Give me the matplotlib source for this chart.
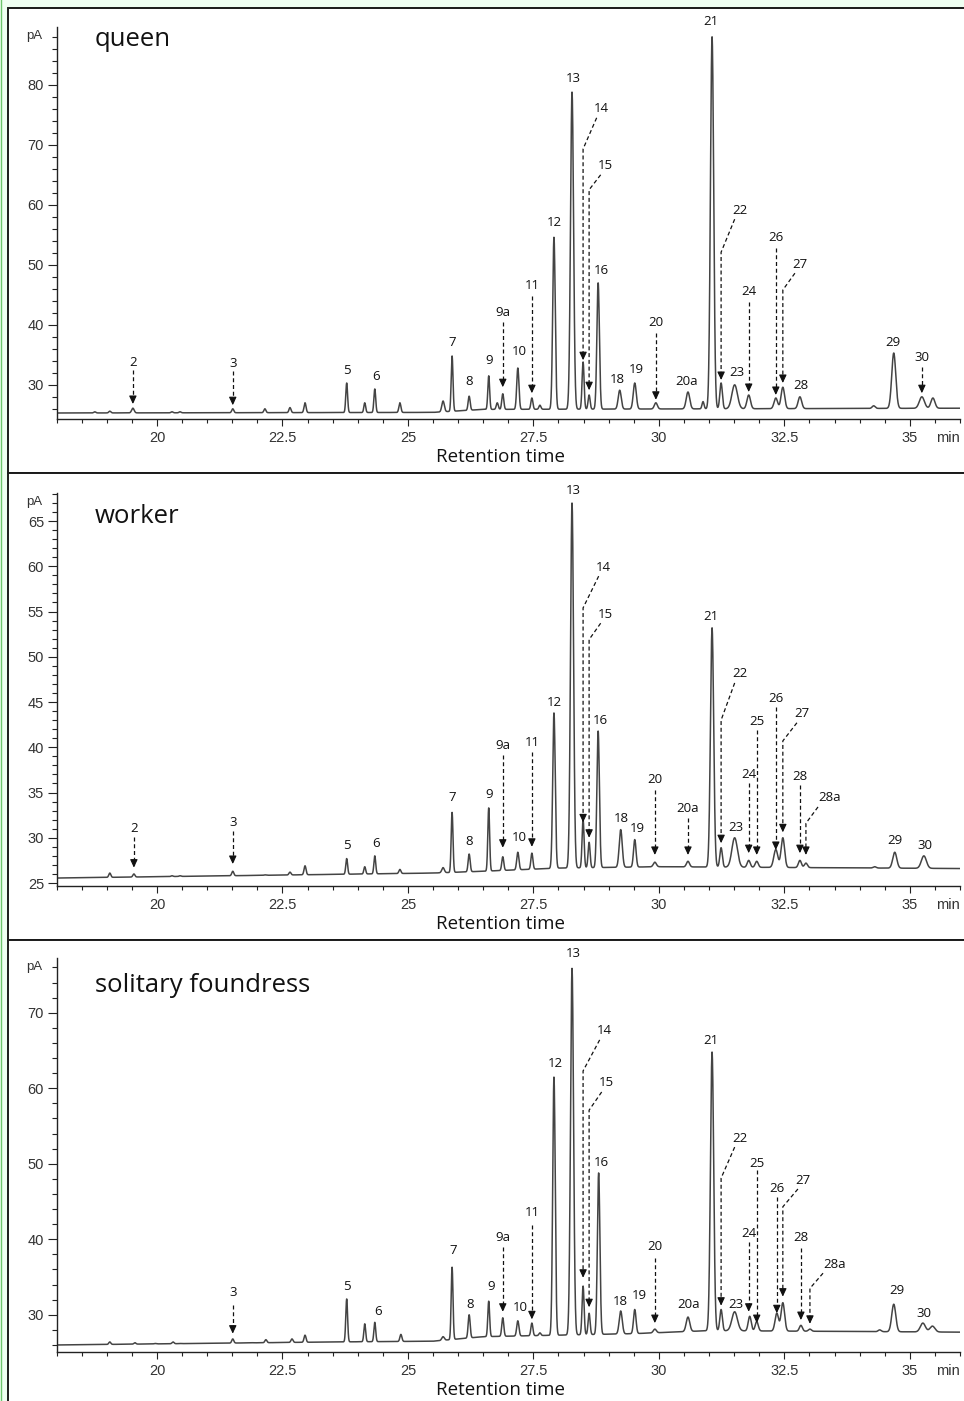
import numpy as np
import matplotlib.pyplot as plt
from matplotlib.patches import Rectangle
from matplotlib.lines import Line2D
from matplotlib.ticker import MultipleLocator, FuncFormatter

plt.rcParams['font.family'] = ['Liberation Sans', 'DejaVu Sans']

W, H = 964, 1401
XMIN, XMAX = 18.0, 36.0

# ---------------- queen ----------------
# peak retention time (min), apex height (pA), peak sd (min)
queen_rt = [18.76, 19.06, 19.52, 20.30, 20.46, 21.51, 22.15, 22.65, 22.95, 23.78,
            24.14, 24.34, 24.84, 25.70, 25.88, 26.22, 26.61, 26.78, 26.89, 27.19,
            27.47, 27.63, 27.91, 28.27, 28.49, 28.61, 28.79, 29.22, 29.52, 29.94,
            30.58, 30.88, 31.06, 31.24, 31.51, 31.79, 32.33, 32.47, 32.81, 34.28,
            34.68, 35.24, 35.46]
queen_pa = [25.5, 25.6, 26.1, 25.5, 25.5, 26.0, 26.0, 26.2, 27.0, 30.3,
            27.0, 29.3, 27.0, 27.3, 34.8, 28.1, 31.5, 27.0, 28.5, 32.8,
            27.8, 26.6, 54.6, 78.8, 33.8, 28.3, 47.0, 29.1, 30.3, 27.0,
            28.8, 27.2, 88.0, 30.3, 30.0, 28.3, 27.8, 29.6, 28.0, 26.5,
            35.3, 28.0, 27.8]
queen_sd = [.02, .02, .025, .02, .02, .02, .02, .02, .02, .018,
            .018, .018, .02, .025, .018, .02, .018, .02, .02, .022,
            .02, .02, .025, .03, .02, .02, .025, .03, .03, .03,
            .035, .02, .032, .025, .055, .035, .035, .035, .035, .03,
            .04, .05, .04]
queen_base_rt = [18.0, 25.5, 26.5, 36.0]
queen_base_pa = [25.3, 25.4, 25.9, 26.1]

queen_plain = [('5', 23.78, 32.3), ('6', 24.36, 31.3), ('7', 25.88, 37.1), ('8', 26.22, 30.5),
               ('9', 26.61, 34.0), ('10', 27.21, 35.5), ('12', 27.91, 57.0), ('13', 28.29, 81.1),
               ('16', 28.86, 49.0), ('18', 29.18, 30.8), ('19', 29.56, 32.6), ('20a', 30.56, 30.6),
               ('21', 31.04, 90.5), ('23', 31.55, 32.1), ('28', 32.83, 29.8), ('29', 34.66, 37.0)]
queen_arrows = [('2', 19.52, 33.8, 32.5, 26.8), ('3', 21.51, 33.6, 32.3, 26.6),
                ('9a', 26.89, 42.1, 40.5, 29.6), ('11', 27.47, 46.5, 44.8, 28.6),
                ('20', 29.94, 40.3, 38.6, 27.5), ('24', 31.79, 45.5, 43.8, 28.8),
                ('26', 32.33, 54.5, 52.8, 28.3), ('30', 35.24, 34.5, 33.0, 28.6)]
queen_kinks = [('14', 28.49, 28.86, 76.0, 69.3, 34.1), ('15', 28.61, 28.94, 66.5, 62.5, 29.1),
               ('22', 31.24, 31.61, 59.1, 52.1, 30.8), ('27', 32.47, 32.81, 50.1, 45.8, 30.3)]

# ---------------- worker ----------------
worker_rt = [19.06, 19.54, 20.30, 20.46, 21.51, 22.15, 22.65, 22.95, 23.78, 24.14,
             24.34, 24.84, 25.70, 25.88, 26.22, 26.61, 26.89, 27.19, 27.47, 27.91,
             28.27, 28.49, 28.61, 28.79, 29.24, 29.52, 29.92, 30.58, 31.06, 31.24,
             31.51, 31.79, 31.95, 32.33, 32.47, 32.81, 32.93, 34.30, 34.70, 35.28]
worker_pa = [26.1, 26.0, 25.8, 25.8, 26.3, 25.9, 26.2, 26.9, 27.7, 26.8,
             28.0, 26.5, 26.7, 32.8, 28.2, 33.3, 27.9, 28.4, 28.3, 43.8,
             67.0, 32.0, 29.5, 41.8, 30.9, 29.8, 27.3, 27.4, 53.2, 28.9,
             30.0, 27.5, 27.4, 28.7, 30.0, 27.5, 27.2, 26.8, 28.4, 28.0]
worker_sd = [.02, .02, .02, .02, .02, .02, .02, .02, .018, .018,
             .018, .02, .025, .018, .02, .018, .02, .022, .02, .025,
             .03, .02, .02, .025, .03, .025, .03, .03, .032, .025,
             .055, .03, .03, .04, .035, .03, .03, .03, .04, .05]
worker_base_rt = [18.0, 25.5, 26.5, 28.0, 30.0, 36.0]
worker_base_pa = [25.55, 26.1, 26.3, 26.65, 26.8, 26.6]

worker_plain = [('5', 23.78, 29.1), ('6', 24.36, 29.4), ('7', 25.88, 34.5), ('8', 26.22, 29.6),
                ('9', 26.61, 34.8), ('10', 27.21, 30.0), ('12', 27.91, 44.9), ('13', 28.29, 68.4),
                ('16', 28.84, 43.0), ('18', 29.26, 32.1), ('19', 29.58, 31.0), ('21', 31.04, 54.4),
                ('23', 31.53, 31.1), ('29', 34.70, 29.75), ('30', 35.30, 29.2)]
worker_arrows = [('2', 19.54, 31.0, 30.1, 26.7), ('3', 21.51, 31.7, 30.7, 27.1),
                 ('9a', 26.89, 40.2, 39.1, 28.9), ('11', 27.47, 40.5, 39.5, 29.0),
                 ('20', 29.92, 36.4, 35.3, 28.1), ('20a', 30.58, 33.2, 32.2, 28.1),
                 ('24', 31.79, 37.0, 36.05, 28.3), ('25', 31.95, 42.8, 41.9, 28.1),
                 ('26', 32.33, 45.4, 44.45, 28.65), ('28', 32.81, 36.8, 35.8, 28.3)]
worker_kinks = [('14', 28.49, 28.90, 59.9, 55.4, 31.7), ('15', 28.61, 28.94, 54.7, 51.9, 30.0),
                ('22', 31.24, 31.61, 48.1, 43.0, 29.4), ('27', 32.47, 32.85, 43.7, 40.7, 30.6),
                ('28a', 32.93, 33.41, 34.4, 31.6, 28.1)]

# ---------------- solitary foundress ----------------
solitary_rt = [19.06, 19.56, 19.96, 20.32, 20.46, 21.51, 21.91, 22.17, 22.69, 22.95,
               23.78, 24.14, 24.34, 24.86, 25.70, 25.88, 26.22, 26.61, 26.89, 27.19,
               27.47, 27.63, 27.91, 28.27, 28.49, 28.61, 28.80, 29.24, 29.52, 29.92,
               30.58, 31.06, 31.24, 31.51, 31.81, 31.95, 32.35, 32.47, 32.83, 33.01,
               34.40, 34.68, 35.26, 35.45]
solitary_pa = [26.4, 26.3, 26.2, 26.4, 26.2, 26.8, 26.3, 26.7, 26.8, 27.3,
               32.1, 28.8, 29.0, 27.4, 27.1, 36.3, 30.0, 31.8, 29.6, 29.2,
               28.9, 27.6, 61.5, 75.9, 33.8, 30.2, 48.8, 30.5, 30.7, 28.1,
               29.7, 64.8, 30.7, 30.4, 29.8, 29.1, 30.2, 31.6, 28.6, 28.1,
               28.0, 31.4, 28.9, 28.5]
solitary_sd = [.02, .02, .02, .02, .02, .02, .02, .02, .02, .02,
               .018, .018, .018, .02, .025, .018, .02, .018, .02, .022,
               .02, .02, .025, .03, .02, .02, .025, .03, .025, .03,
               .035, .032, .025, .055, .03, .03, .035, .035, .03, .03,
               .03, .04, .05, .05]
solitary_base_rt = [18.0, 23.5, 25.5, 26.5, 29.5, 31.0, 36.0]
solitary_base_pa = [26.0, 26.4, 26.5, 27.1, 27.5, 27.9, 27.7]

solitary_plain = [('5', 23.78, 33.7), ('6', 24.40, 30.4), ('7', 25.90, 38.5), ('8', 26.24, 31.4),
                  ('9', 26.65, 33.8), ('10', 27.23, 31.0), ('12', 27.93, 63.3), ('13', 28.29, 77.8),
                  ('16', 28.86, 50.2), ('18', 29.24, 31.7), ('19', 29.62, 32.6), ('20a', 30.60, 31.4),
                  ('21', 31.04, 66.3), ('23', 31.53, 31.4), ('29', 34.74, 33.15), ('30', 35.28, 30.2)]
solitary_arrows = [('3', 21.51, 32.9, 31.3, 27.5), ('9a', 26.89, 40.3, 39.0, 30.4),
                   ('11', 27.47, 43.5, 41.9, 29.4), ('20', 29.92, 39.0, 37.5, 28.9),
                   ('24', 31.79, 40.8, 39.6, 30.4), ('25', 31.95, 50.1, 49.2, 28.9),
                   ('26', 32.35, 46.7, 45.6, 30.2), ('28', 32.83, 40.2, 38.8, 29.3)]
solitary_kinks = [('14', 28.49, 28.92, 67.6, 62.3, 34.9), ('15', 28.61, 28.96, 60.7, 57.1, 31.0),
                  ('22', 31.24, 31.61, 53.4, 48.1, 31.2), ('27', 32.47, 32.87, 47.85, 44.3, 32.4),
                  ('28a', 33.01, 33.51, 36.7, 33.5, 28.8)]


def fx(px):
    return px / W


def fy(py):
    return 1 - py / H


def trace(rt, pa, sd, brt, bpa):
    t = np.linspace(XMIN, XMAX, 7000)
    y = np.interp(t, brt, bpa)
    for r, p, s in zip(rt, pa, sd):
        h = p - np.interp(r, brt, bpa)
        y = y + h * np.exp(-0.5 * ((t - r) / s) ** 2)
    return t, y


DASH = (0, (3.2, 2.2))


def arrow_head(ax, x, y, pxpa):
    ax.annotate('', xy=(x, y), xytext=(x, y + 7 / pxpa),
                arrowprops=dict(arrowstyle='-|>,head_length=0.6,head_width=0.28',
                                color='#111', lw=0.8, shrinkA=0, shrinkB=0,
                                mutation_scale=8))


def draw_panel(ax, rt, pa, sd, brt, bpa, plain, arrows, kinks, pxpa):
    t, y = trace(rt, pa, sd, brt, bpa)
    ax.plot(t, y, color='#444444', lw=1.1)
    pxmin = 903.4 / (XMAX - XMIN)
    lab = dict(ha='center', va='center', fontsize=9.5, family='Open Sans',
               color='#111', clip_on=False)
    for name, x, ty in plain:
        ax.text(x, ty, name, **lab)
    for name, x, ty, y0, y1 in arrows:
        ax.text(x, ty, name, **lab)
        ax.plot([x, x], [y0, y1 + 3 / pxpa], color='#111', lw=0.9, ls=DASH)
        arrow_head(ax, x, y1, pxpa)
    for name, x, tx, ty, ky, y1 in kinks:
        ax.text(tx, ty, name, **lab)
        dx = (5 if len(name) <= 2 else 12) / pxmin
        sx, sy = tx - dx, ty - 9 / pxpa
        ax.plot([sx, x, x], [sy, ky, y1 + 3 / pxpa], color='#111', lw=0.9, ls=DASH)
        arrow_head(ax, x, y1, pxpa)


fig = plt.figure(figsize=(W / 100, H / 100), dpi=100, facecolor='#effff2')

# white panels with dark frames
for top, bot in [(8, 473), (473, 940), (940, 1410)]:
    fig.add_artist(Rectangle((fx(8), fy(bot)), fx(970), (bot - top) / H,
                             transform=fig.transFigure, fc='white', ec='#1a1a1a',
                             lw=1.4, zorder=-5))
fig.add_artist(Line2D([fx(0.6), fx(0.6)], [0, 1], transform=fig.transFigure,
                      color='#6cc46c', lw=1.0))

panels = [
    # name, axes top px, axes bottom px, y low, px per pA, major, minor, name baseline px
    ('queen', 27, 419, 24.3, 6.0, 10, 2, 46,
     queen_rt, queen_pa, queen_sd, queen_base_rt, queen_base_pa,
     queen_plain, queen_arrows, queen_kinks),
    ('worker', 493, 886, 24.67, 9.05, 5, 1, 523,
     worker_rt, worker_pa, worker_sd, worker_base_rt, worker_base_pa,
     worker_plain, worker_arrows, worker_kinks),
    ('solitary foundress', 958, 1352, 25.07, 7.55, 10, 2, 992,
     solitary_rt, solitary_pa, solitary_sd, solitary_base_rt, solitary_base_pa,
     solitary_plain, solitary_arrows, solitary_kinks),
]

for (name, top, bot, ylo, pxpa, maj, mnr, nbase,
     rt, pa, sd, brt, bpa, plain, arrows, kinks) in panels:
    ax = fig.add_axes([fx(56.6), fy(bot), (960 - 56.6) / W, (bot - top) / H])
    ax.set_facecolor('none')
    ax.set_xlim(XMIN, XMAX)
    ax.set_ylim(ylo, ylo + (bot - top) / pxpa)
    draw_panel(ax, rt, pa, sd, brt, bpa, plain, arrows, kinks, pxpa)

    for s in ('top', 'right'):
        ax.spines[s].set_visible(False)
    for s in ('left', 'bottom'):
        ax.spines[s].set_linewidth(1.0)
        ax.spines[s].set_color('#222')
    ax.xaxis.set_major_locator(MultipleLocator(2.5))
    ax.xaxis.set_minor_locator(MultipleLocator(0.5))
    ax.xaxis.set_major_formatter(FuncFormatter(lambda v, p: f'{v:g}'))
    ax.yaxis.set_major_locator(MultipleLocator(maj))
    ax.yaxis.set_minor_locator(MultipleLocator(mnr))
    ax.tick_params(axis='x', which='major', length=5, width=0.8, pad=3.5,
                   labelsize=10.5, labelcolor='#333', color='#222')
    ax.tick_params(axis='x', which='minor', length=3, width=0.8, color='#222')
    ax.tick_params(axis='y', which='major', length=6.5, width=0.8, pad=2.5,
                   labelsize=10.5, labelcolor='#333', color='#222')
    ax.tick_params(axis='y', which='minor', length=3.4, width=0.8, color='#222')

    ax.annotate('min', xy=(35.75, 0), xycoords=('data', 'axes fraction'),
                xytext=(0, -8.5), textcoords='offset points', ha='center', va='top',
                fontsize=10.5, color='#333')
    ax.annotate('pA', xy=(0, 1), xycoords='axes fraction', xytext=(-10, -6.5),
                textcoords='offset points', ha='right', va='center',
                fontsize=9.5, color='#333')

    fig.text(fx(95), fy(nbase), name, ha='left', va='baseline', fontsize=18.5,
             family='Open Sans', color='#111')
    fig.text(fx(500), fy(bot + 38), 'Retention time', ha='center', va='center',
             fontsize=13.5, family='Open Sans', color='#111')

fig.savefig('out.png', dpi=100, facecolor=fig.get_facecolor())
